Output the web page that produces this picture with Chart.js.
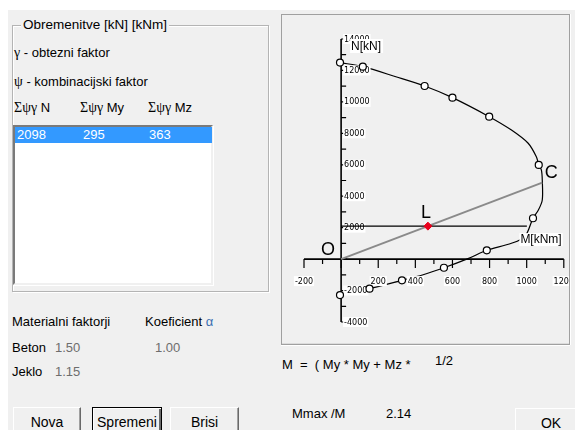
<!DOCTYPE html>
<html><head><meta charset="utf-8">
<script src="https://cdn.jsdelivr.net/npm/chart.js@4/dist/chart.umd.min.js"></script>
<style>
body{margin:0;width:575px;height:430px;overflow:hidden;background:#fff;font-family:"Liberation Sans",Arial,sans-serif;font-size:13px;color:#000;position:relative;}
#dlg{position:absolute;left:8px;top:10px;width:567px;height:420px;background:#f0f0f0;}
.t{position:absolute;white-space:pre;line-height:16px;}
.s{font-family:"Liberation Serif","DejaVu Serif",serif;font-size:14px;}
.g{color:#6d6d6d;}
#fs{position:absolute;left:12px;top:25px;width:255px;height:265px;border:1px solid #b4b4b4;box-shadow:1px 1px 0 #fff, inset 1px 1px 0 #fff;}
#lb{position:absolute;left:13px;top:125px;width:196px;height:156px;background:#fff;border-style:solid;border-width:2px;border-color:#7a7a7a #f0f0f0 #f0f0f0 #7a7a7a;box-shadow:1px 1px 0 #fff;}
#sel{position:absolute;left:15px;top:127px;width:197px;height:16px;background:#3399ff;}
.btn{position:absolute;top:407px;height:30px;background:#f0f0f0;border-style:solid;border-width:1px;border-color:#fff #696969 #696969 #fff;box-shadow:inset -1px -1px 0 #a0a0a0;text-align:center;line-height:29px;font-size:14px;}
#frame{position:absolute;left:281px;top:14px;width:287px;height:329px;border-style:solid;border-width:1px;border-color:#a0a0a0 #a0a0a0 #a0a0a0 #a0a0a0;box-shadow:0 1px 0 #fff, 1px 0 0 #fff, inset 0 -1px 0 #dcdcdc;}
#c{position:absolute;left:282px;top:15px;}
</style></head>
<body>
<div id="dlg"></div>
<div id="fs"></div>
<div class="t" style="left:21px;top:17px;background:#f0f0f0;padding:0 2px;font-size:13.5px;">Obremenitve [kN] [kNm]</div>
<div class="t" style="left:14px;top:45px;"><span class="s">γ</span> - obtezni faktor</div>
<div class="t" style="left:14px;top:74px;"><span class="s">ψ</span> - kombinacijski faktor</div>
<div class="t" style="left:14px;top:100px;"><span class="s">Σψγ</span> N</div>
<div class="t" style="left:80px;top:100px;"><span class="s">Σψγ</span> My</div>
<div class="t" style="left:148px;top:100px;"><span class="s">Σψγ</span> Mz</div>
<div id="lb"></div>
<div id="sel"></div>
<div class="t" style="left:17px;top:127px;color:#fff;">2098</div>
<div class="t" style="left:83px;top:127px;color:#fff;">295</div>
<div class="t" style="left:149px;top:127px;color:#fff;">363</div>

<div class="t" style="left:12px;top:314px;">Materialni faktorji</div>
<div class="t" style="left:145px;top:314px;">Koeficient <span style="color:#3a6fb0">α</span></div>
<div class="t" style="left:12px;top:340px;">Beton</div>
<div class="t g" style="left:55px;top:340px;">1.50</div>
<div class="t g" style="left:155px;top:340px;">1.00</div>
<div class="t" style="left:12px;top:364px;">Jeklo</div>
<div class="t g" style="left:55px;top:364px;">1.15</div>

<div class="btn" style="left:13px;width:66px;">Nova</div>
<div class="btn" style="left:92px;width:68px;border-color:#000;box-shadow:inset 1px 1px 0 #fff, inset -2px -2px 0 #696969;">Spremeni</div>
<div class="btn" style="left:170px;width:67px;">Brisi</div>
<div class="btn" style="left:515px;width:70px;top:408px;">OK</div>

<div class="t" style="left:282px;top:357px;">M  =  ( My * My + Mz *</div>
<div class="t" style="left:435px;top:353px;">1/2</div>
<div class="t" style="left:292px;top:406px;">Mmax /M</div>
<div class="t" style="left:386px;top:406px;">2.14</div>

<div id="frame"></div>
<canvas id="c" width="287" height="329" style="width:287px;height:329px;"></canvas>

<script>
// ---- data ----
const curveM = [-6, 117, 295, 450, 600, 798, 918, 1008, 1052, 1065, 1079, 1084, 1084, 1063, 1034, 990, 918, 785, 687, 554, 438, 328, 153, -6];
const curveN = [12500, 12240, 11600, 11010, 10270, 9060, 8210, 7370, 6510, 5990, 5670, 5030, 3760, 3120, 2600, 1430, 1005, 560, 50, -550, -1010, -1350, -1880, -2285];
const markM = [-6, 117, 450, 600, 798, 1065, 1034, 785, 554, 328, 153, -6];
const markN = [12500, 12240, 11010, 10270, 9060, 5990, 2600, 560, -550, -1350, -1880, -2285];
const loadN = [2098];
const loadMy = [295];
const loadMz = [363];
const mmaxRatio = [2.14];
const pointC = [1084, 4862];
const xMajorTicks = [-200, 0, 200, 400, 600, 800, 1000, 1200];
const xMinorTicks = [-100, 100, 300, 500, 700, 900, 1100];
const xTickLabels = [-200, 200, 400, 600, 800, 1000, 1200];
const yMajorTicks = [-4000, -2000, 0, 2000, 4000, 6000, 8000, 10000, 12000, 14000];
const yMinorTicks = [-3000, -1000, 1000, 3000, 5000, 7000, 9000, 11000, 13000];
const yTickLabels = [14000, 12000, 10000, 8000, 6000, 4000, 2000, -2000, -4000];

const M = Math.sqrt(loadMy[0] * loadMy[0] + loadMz[0] * loadMz[0]);
const Mmax = mmaxRatio[0] * M;

const curvePts = curveM.map((m, i) => ({x: m, y: curveN[i]}));
const markPts = markM.map((m, i) => ({x: m, y: markN[i]}));

function label(ctx, txt, x, y, align) {
  ctx.font = '8px "DejaVu Sans"';
  const w = ctx.measureText(txt).width;
  const lx = align === 'left' ? x : x - w / 2;
  ctx.fillStyle = '#fff';
  ctx.fillRect(lx - 1, y - 5, w + 2, 10);
  ctx.fillStyle = '#000';
  ctx.textBaseline = 'middle';
  ctx.textAlign = 'left';
  ctx.fillText(txt, lx, y + 0.5);
}

const axesPlugin = {
  id: 'axesPlugin',
  beforeDatasetsDraw(chart) {
    const {ctx, scales: {x, y}} = chart;
    const x0 = x.getPixelForValue(0), y0 = y.getPixelForValue(0);
    ctx.save();
    ctx.strokeStyle = '#000';
    ctx.lineWidth = 1.6;
    ctx.beginPath();
    ctx.moveTo(x0, y.getPixelForValue(14000));
    ctx.lineTo(x0, y.getPixelForValue(-4000));
    ctx.moveTo(x.getPixelForValue(-200), y0);
    ctx.lineTo(x.getPixelForValue(1200), y0);
    ctx.stroke();
    ctx.lineWidth = 1.2;
    ctx.beginPath();
    yMajorTicks.forEach(v => { const p = y.getPixelForValue(v); ctx.moveTo(x0, p); ctx.lineTo(x0 + 6, p); });
    yMinorTicks.forEach(v => { const p = y.getPixelForValue(v); ctx.moveTo(x0, p); ctx.lineTo(x0 + 5, p); });
    xMajorTicks.forEach(v => { const p = x.getPixelForValue(v); ctx.moveTo(p, y0); ctx.lineTo(p, y0 + 9); });
    xMinorTicks.forEach(v => { const p = x.getPixelForValue(v); ctx.moveTo(p, y0); ctx.lineTo(p, y0 + 5); });
    ctx.stroke();
    ctx.restore();
  },
  afterDatasetDraw(chart, args) {
    if (chart.data.datasets[args.index].label !== 'curve') return;
    const {ctx, scales: {x, y}} = chart;
    const x0 = x.getPixelForValue(0), y0 = y.getPixelForValue(0);
    ctx.save();
    yTickLabels.forEach(v => label(ctx, String(v), x0 + 3, y.getPixelForValue(v), 'left'));
    xTickLabels.forEach(v => label(ctx, String(v), x.getPixelForValue(v), y0 + 22, 'center'));
    ctx.restore();
  },
  afterDatasetsDraw(chart) {
    const {ctx, scales: {x, y}} = chart;
    const x0 = x.getPixelForValue(0), y0 = y.getPixelForValue(0);
    ctx.save();
    ctx.fillStyle = '#000';
    ctx.textAlign = 'center';
    ctx.textBaseline = 'middle';
    ctx.font = '18px "Liberation Sans"';
    ctx.fillText('O', x0 - 13, y0 - 9);
    ctx.fillText('L', x.getPixelForValue(M) - 2, y.getPixelForValue(loadN[0]) - 13);
    ctx.fillText('C', x.getPixelForValue(pointC[0]) + 9, y.getPixelForValue(pointC[1]) - 10);
    ctx.font = '12px "Liberation Sans"';
    ctx.textAlign = 'left';
    let w = ctx.measureText('N[kN]').width;
    const ny = y.getPixelForValue(14000) + 7;
    ctx.fillStyle = '#fff';
    ctx.fillRect(x0 + 9, ny - 7, w + 3, 14);
    ctx.fillStyle = '#000';
    ctx.fillText('N[kN]', x0 + 10, ny + 1);
    w = ctx.measureText('M[kNm]').width;
    const mx = x.getPixelForValue(966), my = y0 - 20;
    ctx.fillStyle = '#fff';
    ctx.fillRect(mx - 1, my - 6, w + 2, 13);
    ctx.fillStyle = '#000';
    ctx.fillText('M[kNm]', mx, my + 1);
    ctx.restore();
  }
};

new Chart(document.getElementById('c'), {
  type: 'scatter',
  data: {
    datasets: [
      {label: 'L', data: [{x: M, y: loadN[0]}], pointStyle: 'rectRot', pointRadius: 4, pointBackgroundColor: '#e8001c', pointBorderColor: '#e8001c', showLine: false, order: 1},
      {label: 'marks', data: markPts, pointRadius: 3.5, pointBackgroundColor: '#fff', pointBorderColor: '#000', pointBorderWidth: 1.2, showLine: false, order: 2, clip: false},
      {label: 'hline', data: [{x: 0, y: loadN[0]}, {x: Mmax, y: loadN[0]}], showLine: true, borderColor: '#000', borderWidth: 1.3, pointRadius: 0, order: 3},
      {label: 'oc', data: [{x: 0, y: 0}, {x: pointC[0], y: pointC[1]}], showLine: true, borderColor: '#8a8a8a', borderWidth: 2, pointRadius: 0, order: 4},
      {label: 'curve', data: curvePts, showLine: true, borderColor: '#000', borderWidth: 1.2, pointRadius: 0, tension: 0.3, order: 5, clip: false}
    ]
  },
  options: {
    responsive: false,
    animation: false,
    events: [],
    layout: {padding: {left: 22, right: 3, top: 24, bottom: 22}},
    plugins: {legend: {display: false}, tooltip: {enabled: false}},
    scales: {
      x: {type: 'linear', min: -200, max: 1200, display: false},
      y: {type: 'linear', min: -4000, max: 14000, display: false}
    }
  },
  plugins: [axesPlugin]
});
</script>
</body></html>
